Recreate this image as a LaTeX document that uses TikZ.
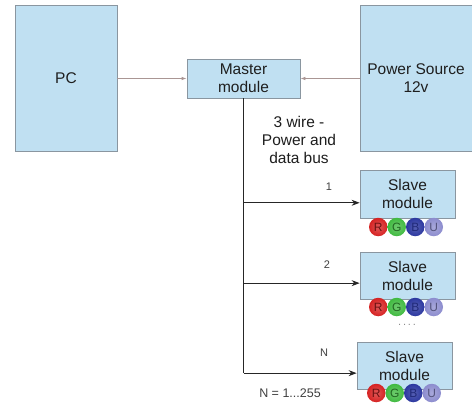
\documentclass[tikz,border=0pt]{standalone}
\usepackage{fontspec}
\setmainfont{Liberation Sans}
\usetikzlibrary{arrows.meta,calc,shadings}
\definecolor{boxfill}{RGB}{192,224,242}
\definecolor{boxline}{RGB}{138,150,160}
\definecolor{thinarrow}{RGB}{170,150,148}
\definecolor{txt}{RGB}{30,30,30}
\definecolor{cR}{RGB}{214,34,34}
\definecolor{cG}{RGB}{64,186,64}
\definecolor{cB}{RGB}{44,56,160}
\definecolor{cU}{RGB}{140,140,206}
\tikzset{
  blk/.style={draw=boxline, fill=boxfill, line width=0.8pt, text=txt, align=center,
    font=\fontsize{15.5}{18}\selectfont, inner sep=0pt},
  thin arrow/.style={draw=thinarrow, line width=0.8pt, -{Latex[length=5pt,width=3.5pt]}},
  bus/.style={draw=black!85, line width=0.9pt},
  busarrow/.style={bus, -{Stealth[length=8pt,width=6pt]}},
  lbl/.style={text=txt!85, font=\fontsize{11}{13}\selectfont, inner sep=0pt},
  led/.style={circle, minimum size=18.5pt, inner sep=0pt, draw=none,
    font=\fontsize{12}{12}\selectfont},
}
\newcommand{\ledrow}[3]{%
  \node[led, inner color=cR!75!white, outer color=cR, text=cR!50!black] (#1r) at (#2-27.75,#3) {R};
  \node[led, inner color=cG!75!white, outer color=cG, text=cG!55!black] (#1g) at (#2-9.25,#3) {G};
  \node[led, inner color=cB!80!white, outer color=cB, text=cB!75!black] (#1b) at (#2+9.25,#3) {B};
  \node[led, inner color=cU!75!white, outer color=cU, text=cU!60!black] (#1u) at (#2+27.75,#3) {U};
}
\begin{document}
\begin{tikzpicture}[x=1pt,y=-1pt]
\useasboundingbox[fill=white] (0,0) rectangle (472,404);
\node[blk, minimum width=102pt, minimum height=146pt] (pc) at (66,78) {PC};
\node[blk, minimum width=113pt, minimum height=39pt] (master) at (243.5,78.5) {Master\\module};
\node[blk, minimum width=112pt, minimum height=146pt] (power) at (416,78) {Power Source\\12v};
\node[blk, minimum width=95pt, minimum height=48pt] (s1) at (407.5,194) {Slave\\module};
\node[blk, minimum width=95pt, minimum height=47pt] (s2) at (407.5,275.5) {Slave\\module};
\node[blk, minimum width=95pt, minimum height=47pt] (s3) at (404.5,365.5) {Slave\\module};
\ledrow{a}{406}{227}
\ledrow{b}{406}{307}
\ledrow{c}{404}{393}
\draw[thin arrow] (pc.east |- master.west) -- (master.west);
\draw[thin arrow] (power.west |- master.east) -- (master.east);
\coordinate (p1) at ($(s1.south west)!0.32!(s1.north west)$);
\coordinate (p2) at ($(s2.south west)!0.34!(s2.north west)$);
\coordinate (p3) at ($(s3.south west)!0.34!(s3.north west)$);
\draw[bus] (master.south) -- (master.south |- p3);
\draw[busarrow] (master.south |- p3) -- (p3);
\draw[busarrow] (master.south |- p1) -- (p1);
\draw[busarrow] (master.south |- p2) -- (p2);
\node[text=txt, align=center, font=\fontsize{15.5}{18}\selectfont, inner sep=0pt] (busl) at (299,140) {3 wire -\\Power and\\data bus};
\node[lbl] (l1) at (329,187) {1};
\node[lbl] (l2) at (327,265) {2};
\node[lbl] (ln) at (324,353) {N};
\node[text=txt!85, font=\fontsize{12.5}{14}\selectfont, inner sep=0pt] (nrange) at (290,393) {N = 1...255};
\node[text=black!45, font=\fontsize{11}{12}\selectfont, inner sep=0pt] (dots) at (407,325) {.\,.\,.\,.};
\end{tikzpicture}
\end{document}
